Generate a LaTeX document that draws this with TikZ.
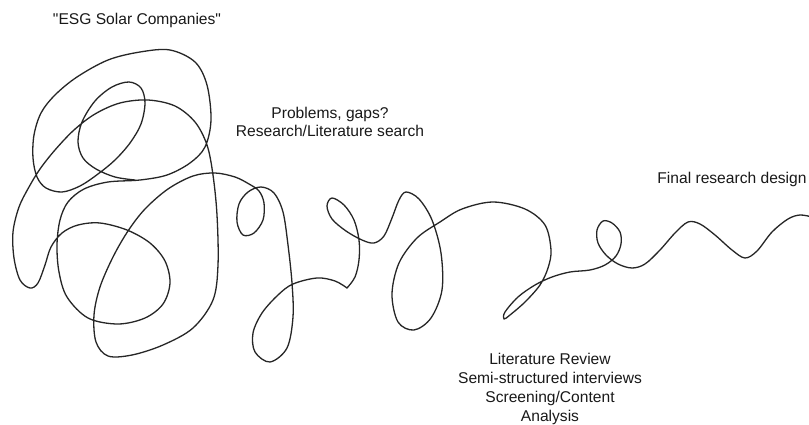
\documentclass[tikz,border=0pt]{standalone}
\usepackage{fontspec}
\setmainfont{Liberation Sans}[Ligatures=TeXOff]
\begin{document}
\begin{tikzpicture}[x=1pt,y=-1pt,
  squiggle/.style={line width=1.3pt, draw=black!85, line cap=round, line join=round},
  label/.style={inner sep=0pt, text=black!90, align=center,
    font=\fontsize{15.6}{18}\selectfont}]
\clip (0,0) rectangle (809,425);
\fill[white] (0,0) rectangle (809,425);

% the design squiggle: a tangle on the left that slowly unwinds to the right
\draw[squiggle] plot[smooth, tension=0.55] coordinates {
  (135,180) (115,177) (96,169) (83,158) (78,142) (82,122) (95,101) (112,87)
  (129,82) (141,88) (145,103) (141,124) (130,143) (115,160) (98,174) (80,186)
  (62,192) (46,188) (37,177) (33,158) (34,135) (41,113) (55,95) (77,77)
  (108,60) (140,52) (170,50) (195,62) (207,85) (211,120) (205,147) (190,163)
  (167,175) (140,180) (108,182) (84,189) (68,202) (60,220) (57,245) (59,272)
  (67,297) (88,318) (118,324) (145,318) (163,304) (170,283) (165,261) (150,243)
  (127,230) (100,223) (78,225) (62,233) (51,247) (45,265) (38,283) (30,288)
  (20,280) (14,258) (13,232) (19,207) (29,187) (40,169) (55,150) (74,130)
  (95,114) (120,103) (148,100) (175,106) (195,122) (207,145) (213,175) (217,215)
  (218,265) (213,300) (193,328) (163,345) (132,355) (108,356) (96,342) (94,315)
  (100,287) (113,257) (128,231) (145,209) (168,189) (193,176) (215,173) (235,177)
  (249,184) (259,191) (264,203) (263,220) (254,233) (243,235) (237,222) (239,204)
  (248,192) (261,187) (274,193) (283,212) (288,245) (292,283) (293,317) (287,348)
  (270,362) (255,352) (253,333) (262,313) (278,295) (293,284) (317,278) (335,281)
  (347,288)};
\draw[squiggle] plot[smooth, tension=0.55] coordinates {
  (347,288) (355,277) (359,260) (359,240) (354,220) (344,205) (332,198) (327,206)
  (332,219) (346,231) (362,240) (374,243) (384,236) (392,218) (399,200) (406,192)
  (419,199) (432,220) (441,253) (442,290) (431,318) (414,330) (398,322) (392,294)
  (399,263) (417,238) (440,222) (462,209) (493,202) (525,209) (545,225) (551,250)
  (548,268) (540,285) (525,302) (510,315) (504,319) (505,312) (518,297) (535,285)
  (552,277) (570,272) (590,270) (605,265) (616,256) (621,244) (620,232) (612,223)
  (603,221) (597,230) (598,243) (606,255) (618,264) (632,268) (645,264) (660,250)
  (675,233) (688,222) (700,224) (715,235) (732,250) (745,258) (757,251) (772,232)
  (788,219) (800,215) (812,217)};

% stage labels (base anchor sits on the last line of each block)
\node[label, anchor=base] (topic) at (137,25) {"ESG Solar Companies"};
\node[label, anchor=base] (problems) at (330,136.5)
  {Problems, gaps?\\Research/Literature search};
\node[label, anchor=base] (final) at (732,184) {Final research design};
\node[label, anchor=base, font=\fontsize{15.6}{19}\selectfont] (methods) at (550,421)
  {Literature Review\\Semi-structured interviews\\Screening/Content\\Analysis};
\end{tikzpicture}
\end{document}
